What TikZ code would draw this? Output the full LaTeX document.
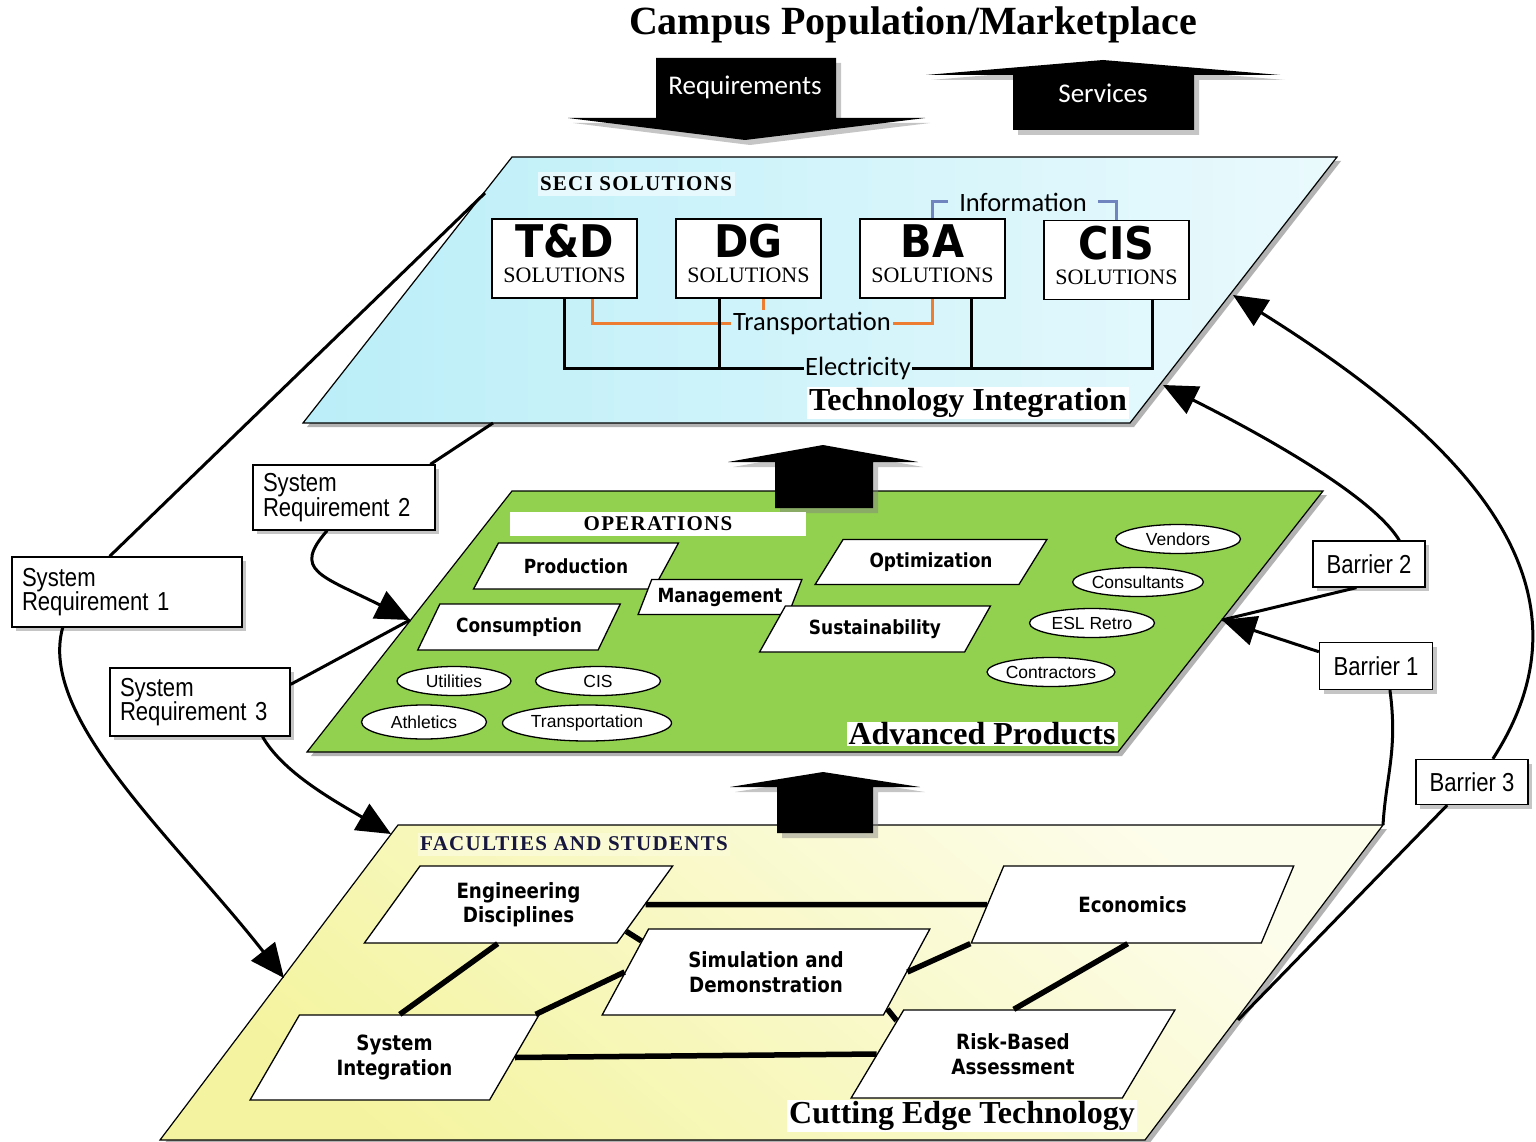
\documentclass[tikz,border=0pt]{standalone}
\usepackage{fontspec}
\setmainfont{Liberation Serif}
\newfontfamily\spacedserif[LetterSpace=6]{Liberation Serif}
\newfontfamily\narrowsans[FakeStretch=0.85]{Liberation Sans}
\newfontfamily\plainsans{Liberation Sans}
\newfontfamily\calsans{Carlito}
\newfontfamily\tahsans[FakeStretch=0.87]{DejaVu Sans}
\newfontfamily\heavysans[FakeStretch=0.92]{DejaVu Sans}
\usepackage{xcolor}
\usepackage{tikz}
\usetikzlibrary{arrows.meta}
\usetikzlibrary{shapes.geometric}
\usetikzlibrary{shadows}

\definecolor{seciblue}{RGB}{186,238,248}
\definecolor{opsgreen}{RGB}{146,208,80}
\definecolor{facyellow}{RGB}{244,244,160}
\definecolor{transorange}{RGB}{237,125,49}
\definecolor{infoblue}{RGB}{112,132,192}
\definecolor{navytext}{RGB}{22,22,62}

\newcommand{\solhead}[1]{{\heavysans\bfseries\fontsize{45}{45}\selectfont #1}\\[3pt]SOLUTIONS\rule[-10pt]{0pt}{10pt}}

\tikzset{
  plane/.style={draw=black, line width=1.2pt,
    drop shadow={shadow xshift=4pt, shadow yshift=-4pt, fill=black!60, opacity=0.5}},
  bigarrow/.style={fill=black,
    drop shadow={shadow xshift=5pt, shadow yshift=-5pt, fill=black!50, opacity=0.45}},
  arrowtext/.style={text=white, font=\calsans\fontsize{27}{27}\selectfont},
  banner/.style={inner sep=0pt, font=\spacedserif\bfseries\fontsize{21}{21}\selectfont},
  planetitle/.style={fill=white, inner xsep=2pt, inner ysep=1pt, font=\bfseries\fontsize{32}{32}\selectfont},
  solbox/.style={draw=black, line width=1.6pt, fill=white, minimum width=145pt, minimum height=79pt,
    align=center, inner sep=0pt, font=\fontsize{22}{22}\selectfont},
  wirelabel/.style={inner sep=2pt, font=\calsans\fontsize{26.5}{26.5}\selectfont},
  power/.style={line width=3pt, black},
  road/.style={line width=3pt, transorange},
  infoline/.style={line width=3pt, infoblue},
  task/.style={trapezium, trapezium stretches=true, draw=black, line width=1.3pt, fill=white,
    inner sep=0pt, align=center, font=\tahsans\bfseries\fontsize{19.5}{22}\selectfont},
  bigtask/.style={task, font=\tahsans\bfseries\fontsize{21}{24.5}\selectfont},
  tag/.style={ellipse, draw=black, line width=1.3pt, fill=white, inner sep=0pt,
    font=\plainsans\fontsize{17.5}{18}\selectfont},
  tie/.style={line width=5.5pt},
  reqbox/.style={draw=black, line width=1.3pt, fill=white, align=left, inner xsep=10pt, inner ysep=0pt,
    font=\narrowsans\fontsize{26}{24.5}\selectfont,
    drop shadow={shadow xshift=4pt, shadow yshift=-4pt, fill=black!45, opacity=0.5}},
  barbox/.style={reqbox, align=center, inner xsep=0pt},
  link/.style={line width=3pt},
  flow/.style={line width=3pt, -{Triangle[length=34pt, width=30pt]}},
}

\begin{document}
\begin{tikzpicture}[x=1pt, y=-1pt]
    \useasboundingbox (0,0) rectangle (1536,1142);
    \fill[white] (0,0) rectangle (1536,1142);

    \node[font=\bfseries\fontsize{40}{40}\selectfont] (title) at (913,25) {Campus Population/Marketplace};

    \path[plane, left color=seciblue, right color=seciblue!30!white]
      (512,157) -- (1337,157) -- (1130,423) -- (303,423) -- cycle;
    \path[plane, fill=opsgreen]
      (512,491) -- (1323,491) -- (1118,752) -- (307,752) -- cycle;
    \path[plane, top color=facyellow!20!white, bottom color=facyellow, shading angle=-40]
      (398,825) -- (1383,825) -- (1145,1140) -- (160,1140) -- cycle;

    \fill[bigarrow] (656,58) -- (836,58) -- (836,118) -- (925,118) -- (745,140)
      -- (568,118) -- (656,118) -- cycle;
    \node[arrowtext] (req) at (745,87) {Requirements};
    \fill[bigarrow] (926,75) -- (1103,60) -- (1280,75) -- (1194,75) -- (1194,130)
      -- (1013,130) -- (1013,75) -- cycle;
    \node[arrowtext] (serv) at (1103,93) {Services};
    \fill[bigarrow] (728,462) -- (823,445) -- (918,462) -- (873,462) -- (873,508)
      -- (775,508) -- (775,462) -- cycle;
    \fill[bigarrow] (730,787) -- (823,772) -- (920,787) -- (873,787) -- (873,833)
      -- (777,833) -- (777,787) -- cycle;

    \node[banner, fill=white!65!seciblue, minimum width=197pt, minimum height=24pt] (seci) at (636,184) {SECI SOLUTIONS};
    \node[solbox] (td) at (564.5,258.5) {\solhead{T\&D}};
    \node[solbox] (dg) at (748.5,258.5) {\solhead{DG}};
    \node[solbox] (ba) at (932.5,258.5) {\solhead{BA}};
    \node[solbox] (cis) at (1116.5,260) {\solhead{CIS}};

    \node[wirelabel, inner xsep=11pt] (info) at (1023,202) {Information};
    \node[wirelabel] (trans) at (812,323) {Transportation};
    \node[wirelabel, inner xsep=1pt] (elec) at (858,368) {Electricity};

    \draw[infoline] (ba.north) |- (info.west);
    \draw[infoline] (info.east) -| (cis.north);
    \draw[road] (td.-55) |- (trans.west);
    \draw[road] (dg.-69) -- (dg.-69 |- trans.north);
    \draw[road] (ba.south) |- (trans.east);
    \draw[power] (td.south) |- (elec.west);
    \draw[power] (elec.east) -| (cis.-48);
    \draw[power] (dg.-126) -- (dg.-126 |- elec.west);
    \draw[power] (ba.-46) -- (ba.-46 |- elec.west);

    \node[planetitle] (techint) at (968,403) {Technology Integration};

    \node[banner, fill=white, minimum width=296pt, minimum height=24pt] (ops) at (658,524) {OPERATIONS};
    \node[task, minimum width=205pt, minimum height=46pt, trapezium left angle=42, trapezium right angle=138] (prod) at (576,566) {Production};
    \node[task, minimum width=164pt, minimum height=35pt, trapezium left angle=56, trapezium right angle=124] (mgmt) at (720,597) {Management};
    \node[task, minimum width=203pt, minimum height=46pt, trapezium left angle=47, trapezium right angle=133] (cons) at (519,627) {Consumption};
    \node[task, minimum width=232pt, minimum height=45pt, trapezium left angle=44, trapezium right angle=136] (optim) at (931,562) {Optimization};
    \node[task, minimum width=231pt, minimum height=46pt, trapezium left angle=45, trapezium right angle=135] (sust) at (875,629) {Sustainability};

    \node[tag, minimum width=114pt, minimum height=29pt] (util) at (454,681) {Utilities};
    \node[tag, minimum width=125pt, minimum height=29pt] (ciso) at (598,681) {CIS};
    \node[tag, minimum width=125pt, minimum height=34pt] (athl) at (424,722) {Athletics};
    \node[tag, minimum width=169pt, minimum height=36pt] (transo) at (587,723) {Transportation};
    \node[tag, minimum width=125pt, minimum height=29pt] (vend) at (1178,539) {Vendors};
    \node[tag, minimum width=125pt, minimum height=29pt] (consult) at (1138,582) {Consultants};
    \node[tag, minimum width=125pt, minimum height=29pt] (esl) at (1092,623) {ESL Retro};
    \node[tag, minimum width=125pt, minimum height=29pt] (contr) at (1051,672) {Contractors};

    \node[planetitle] (advprod) at (982,734) {Advanced Products};

    \node[banner, fill=white!55!facyellow, text=navytext, minimum width=312pt, minimum height=23pt] (fac) at (574,844) {FACULTIES AND STUDENTS};
    \node[bigtask, minimum width=309pt, minimum height=77pt, trapezium left angle=52, trapezium right angle=128] (eng) at (518.5,904.5) {Engineering\\Disciplines};
    \node[bigtask, minimum width=323pt, minimum height=77pt, trapezium left angle=50, trapezium right angle=130] (econ) at (1132.5,904.5) {Economics};
    \node[bigtask, minimum width=328pt, minimum height=86pt, trapezium left angle=53, trapezium right angle=127] (sim) at (766,972) {Simulation and\\Demonstration};
    \node[bigtask, minimum width=289pt, minimum height=85pt, trapezium left angle=56, trapezium right angle=124] (sysint) at (394.5,1057.5) {System\\Integration};
    \node[bigtask, minimum width=324pt, minimum height=88pt, trapezium left angle=54, trapezium right angle=126] (risk) at (1013,1054) {Risk-Based\\Assessment};

    \draw[tie] (eng.east) -- (econ.west);
    \draw[tie] (eng.-14) -- (sim.166);
    \draw[tie] (eng.242) -- (sysint.83);
    \draw[tie] (sim.west) -- (sysint.17);
    \draw[tie] (sim.east) -- (econ.bottom left corner);
    \draw[tie] (sim.-17) -- (risk.164);
    \draw[tie] (econ.-97) -- (risk.89);
    \draw[tie] (sysint.east) -- (risk.west);

    \node[planetitle] (cutedge) at (962,1116) {Cutting Edge Technology};

    \node[reqbox, text width=210pt, minimum height=70pt] (sr1) at (127,592) {System\\Requirement 1};
    \node[reqbox, text width=162pt, minimum height=65pt] (sr2) at (344,497.5) {System\\Requirement 2};
    \node[reqbox, text width=160pt, minimum height=68pt] (sr3) at (200,702) {System\\Requirement 3};
    \node[barbox, minimum width=112pt, minimum height=46pt] (b2) at (1369,564) {Barrier 2};
    \node[barbox, minimum width=113pt, minimum height=47pt] (b1) at (1376,666) {Barrier 1};
    \node[barbox, minimum width=112pt, minimum height=45pt] (b3) at (1472,782) {Barrier 3};

    \coordinate (tiL) at (485,193);
    \coordinate (tiB) at (493,423);
    \coordinate (tiR1) at (1163,385);
    \coordinate (tiR2) at (1233,295);
    \coordinate (gpL) at (410,620);
    \coordinate (gpR) at (1222,620);
    \coordinate (ypL1) at (391,834);
    \coordinate (ypL2) at (284,978);
    \coordinate (ypNE) at (1383,825);
    \coordinate (ypR) at (1238,1020);

    \draw[link] (sr1.116) -- (tiL);
    \draw[flow] (sr1.209) .. controls +(-25,90) and +(-110,-140) .. (ypL2);
    \draw[link] (sr2.21) -- (tiB);
    \draw[flow] (sr2.243) .. controls +(-35,40) and +(-90,-45) .. (gpL);
    \draw[link] (sr3.11) -- (gpL);
    \draw[flow] (sr3.-29) .. controls +(20,35) and +(-60,-35) .. (ypL1);
    \draw[link] (b2.242) -- (gpR);
    \draw[flow] (b2.38) .. controls +(-30,-50) and +(70,35) .. (tiR1);
    \draw[flow] (b1.166) -- (gpR);
    \draw[link] (b1.-60) .. controls +(8,60) and +(3,-50) .. (ypNE);
    \draw[flow] (b3.48) .. controls +(110,-170) and +(240,150) .. (tiR2);
    \draw[link] (b3.223) -- (ypR);
\end{tikzpicture}
\end{document}
